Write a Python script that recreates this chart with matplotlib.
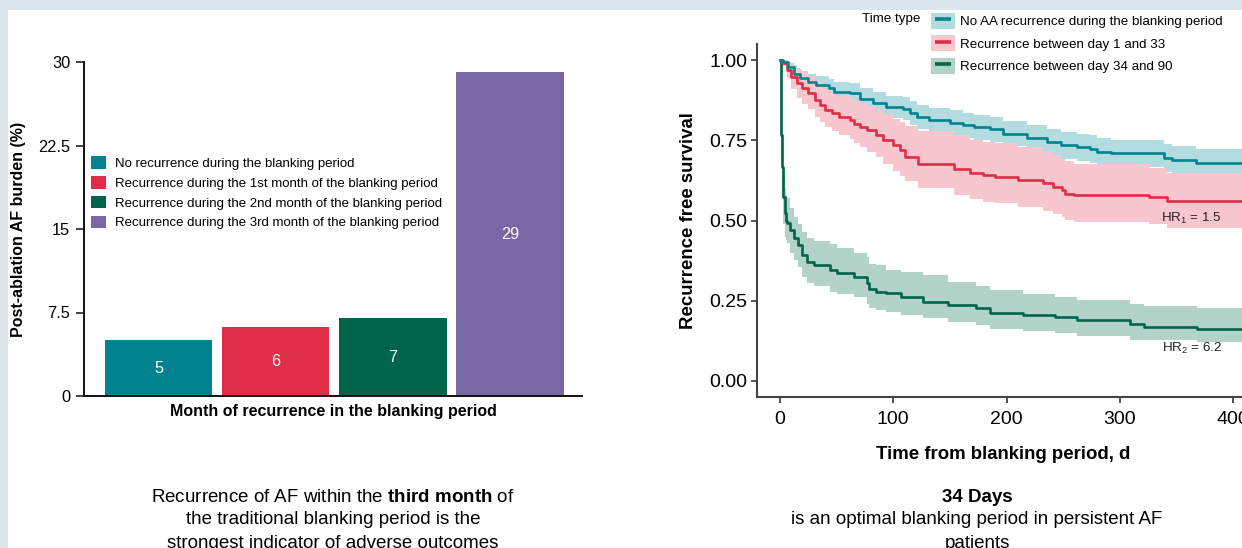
import matplotlib
matplotlib.use("Agg")
import matplotlib.pyplot as plt
from matplotlib.patches import Patch, Rectangle
from matplotlib.lines import Line2D

plt.rcParams["font.family"] = "Liberation Sans"
plt.rcParams["mathtext.fontset"] = "custom"
plt.rcParams["mathtext.rm"] = "Liberation Sans"
plt.rcParams["mathtext.bf"] = "Liberation Sans:bold"
plt.rcParams["mathtext.it"] = "Liberation Sans:italic"

# --- painel esquerdo: carga de FA por mes de recorrencia ---
grupos = [
    "No recurrence during the blanking period",
    "Recurrence during the 1st month of the blanking period",
    "Recurrence during the 2nd month of the blanking period",
    "Recurrence during the 3rd month of the blanking period",
]
carga_fa = [5.0, 6.2, 7.0, 29.1]
rotulos_carga = ["5", "6", "7", "29"]
cores_barras = ["#00838F", "#E02D47", "#00654A", "#7767A5"]

# --- painel direito: curvas de Kaplan-Meier ---
nomes_km = [
    "No AA recurrence during the blanking period",
    "Recurrence between day 1 and 33",
    "Recurrence between day 34 and 90",
]
cores_km = ["#00838F", "#E02D47", "#00654A"]
cores_ic = ["#B3DCE0", "#F7C6CF", "#B3D3C9"]

t_sem = [0, 3, 7, 12, 18, 25, 32, 43, 48, 62, 71, 82, 94, 109, 115, 121, 132, 150,
         162, 171, 185, 197, 218, 236, 248, 262, 274, 280, 292, 339, 346, 367, 420]
s_sem = [1.000, 0.995, 0.979, 0.958, 0.943, 0.932, 0.922, 0.912, 0.901, 0.896, 0.880,
         0.865, 0.854, 0.849, 0.834, 0.823, 0.813, 0.805, 0.797, 0.790, 0.784, 0.771,
         0.756, 0.745, 0.735, 0.728, 0.722, 0.715, 0.709, 0.695, 0.688, 0.678, 0.678]
sup_sem = [1.000, 1.000, 0.991, 0.976, 0.965, 0.957, 0.949, 0.941, 0.931, 0.929, 0.914,
           0.900, 0.889, 0.885, 0.871, 0.860, 0.851, 0.843, 0.836, 0.829, 0.824, 0.811,
           0.797, 0.786, 0.777, 0.770, 0.765, 0.758, 0.752, 0.739, 0.732, 0.723, 0.723]
inf_sem = [1.000, 0.990, 0.967, 0.940, 0.921, 0.907, 0.895, 0.883, 0.871, 0.863, 0.846,
           0.830, 0.819, 0.813, 0.797, 0.786, 0.775, 0.767, 0.758, 0.751, 0.744, 0.731,
           0.715, 0.704, 0.693, 0.686, 0.679, 0.672, 0.666, 0.651, 0.644, 0.633, 0.633]

t_1a33 = [0, 2, 6, 10, 15, 19, 25, 31, 35, 40, 46, 52, 62, 65, 71, 77, 85, 91, 100, 106,
          110, 122, 154, 168, 179, 190, 210, 232, 241, 249, 252, 260, 326, 342, 420]
s_1a33 = [1.000, 0.990, 0.969, 0.948, 0.927, 0.912, 0.896, 0.875, 0.860, 0.844, 0.834,
          0.823, 0.813, 0.802, 0.792, 0.782, 0.766, 0.751, 0.735, 0.719, 0.699, 0.677,
          0.662, 0.648, 0.641, 0.635, 0.626, 0.616, 0.605, 0.595, 0.584, 0.579, 0.572,
          0.561, 0.561]
sup_1a33 = [1.000, 1.000, 0.994, 0.986, 0.972, 0.962, 0.951, 0.935, 0.922, 0.909, 0.901,
            0.891, 0.883, 0.874, 0.866, 0.858, 0.844, 0.831, 0.817, 0.806, 0.795, 0.780,
            0.765, 0.752, 0.745, 0.740, 0.728, 0.716, 0.705, 0.692, 0.684, 0.676, 0.663,
            0.647, 0.647]
inf_1a33 = [1.000, 0.980, 0.944, 0.910, 0.882, 0.864, 0.846, 0.822, 0.808, 0.792, 0.778,
            0.765, 0.754, 0.742, 0.728, 0.715, 0.698, 0.677, 0.655, 0.640, 0.623, 0.600,
            0.580, 0.566, 0.558, 0.553, 0.542, 0.530, 0.520, 0.510, 0.502, 0.495, 0.488,
            0.478, 0.478]

t_34a90 = [0, 1, 2, 2.5, 3, 4, 5, 6, 9, 12, 16, 19, 24, 30, 44, 50, 65, 77, 79, 85, 94,
           107, 126, 148, 173, 185, 215, 243, 262, 309, 321, 368, 420]
s_34a90 = [1.000, 0.766, 0.667, 0.626, 0.574, 0.522, 0.500, 0.491, 0.470, 0.444, 0.423,
           0.392, 0.371, 0.361, 0.345, 0.335, 0.324, 0.304, 0.288, 0.278, 0.273, 0.262,
           0.246, 0.236, 0.226, 0.212, 0.205, 0.198, 0.189, 0.177, 0.168, 0.163, 0.163]
sup_34a90 = [1.000, 0.850, 0.760, 0.720, 0.660, 0.600, 0.580, 0.570, 0.540, 0.511, 0.490,
             0.465, 0.444, 0.435, 0.428, 0.415, 0.400, 0.385, 0.366, 0.360, 0.345, 0.338,
             0.330, 0.309, 0.295, 0.283, 0.272, 0.262, 0.252, 0.241, 0.233, 0.228, 0.228]
inf_34a90 = [1.000, 0.680, 0.580, 0.540, 0.490, 0.450, 0.440, 0.430, 0.400, 0.376, 0.355,
             0.325, 0.304, 0.295, 0.278, 0.272, 0.262, 0.241, 0.228, 0.220, 0.215, 0.205,
             0.195, 0.184, 0.175, 0.163, 0.156, 0.148, 0.139, 0.129, 0.127, 0.122, 0.122]

curvas = [
    (t_sem, s_sem, inf_sem, sup_sem),
    (t_1a33, s_1a33, inf_1a33, sup_1a33),
    (t_34a90, s_34a90, inf_34a90, sup_34a90),
]
hr_textos = [r"HR$_\mathregular{1}$ = 1.5", r"HR$_\mathregular{2}$ = 6.2"]
hr_pos = [(390, 0.507), (390, 0.102)]

W, H = 1242, 548
fig = plt.figure(figsize=(W / 100, H / 100), dpi=100)
fig.patch.set_facecolor("#DDE6EF")
fig.add_artist(Rectangle((8 / W, 0), 1, 1 - 10 / H, transform=fig.transFigure,
                         facecolor="white", edgecolor="none", zorder=0))

# ---------------- grafico de barras ----------------
ax1 = fig.add_axes([84 / W, 1 - 396 / H, 498 / W, 334 / H])
ax1.set_facecolor("none")
pos = list(range(len(carga_fa)))
ax1.bar(pos, carga_fa, width=0.915, color=cores_barras)
for i, v in enumerate(carga_fa):
    ax1.text(i, v / 2, rotulos_carga[i], color="white", ha="center", va="center", fontsize=11.7)
ax1.set_xlim(-0.64, 3.615)
ax1.set_ylim(0, 30)
ax1.set_yticks([0, 7.5, 15, 22.5, 30])
ax1.set_yticklabels(["0", "7.5", "15", "22.5", "30"])
ax1.set_xticks([])
for lado in ["top", "right"]:
    ax1.spines[lado].set_visible(False)
for lado in ["left", "bottom"]:
    ax1.spines[lado].set_linewidth(1.4)
    ax1.spines[lado].set_color("#111111")
ax1.tick_params(axis="y", length=6, width=1.1, labelsize=11.8, pad=4, color="#111111")
ax1.set_ylabel("Post-ablation AF burden (%)", fontsize=11.5, fontweight="bold")
ax1.yaxis.set_label_coords(-0.1165, 0.5)
ax1.set_xlabel("Month of recurrence in the blanking period", fontsize=11.5, fontweight="bold")
ax1.xaxis.set_label_coords(0.5, -0.025)

alcas = [Patch(facecolor=c, edgecolor="none") for c in cores_barras]
ax1.legend(alcas, grupos, loc="upper left", bbox_to_anchor=(91 / W, 1 - 156 / H),
           bbox_transform=fig.transFigure, frameon=False, fontsize=9.5, borderpad=0,
           borderaxespad=0, handlelength=1.1, handleheight=1.1, handletextpad=0.75,
           labelspacing=0.46)

# ---------------- curvas de sobrevida ----------------
ax2 = fig.add_axes([757 / W, 1 - 397 / H, 493 / W, 353 / H])
ax2.set_facecolor("none")
for (t, s, lo, up), cor in zip(curvas, cores_ic):
    ax2.fill_between(t, lo, up, step="post", color=cor, linewidth=0)
for (t, s, lo, up), cor in reversed(list(zip(curvas, cores_km))):
    ax2.step(t, s, where="post", color=cor, linewidth=1.9)
for txt, (x, y) in zip(hr_textos, hr_pos):
    ax2.text(x, y, txt, ha="right", va="center", fontsize=9.6, color="#222222")
ax2.set_xlim(-20.3, 415)
ax2.set_ylim(-0.05, 1.05)
ax2.set_xticks([0, 100, 200, 300, 400])
ax2.set_yticks([0, 0.25, 0.5, 0.75, 1.0])
ax2.set_yticklabels(["0.00", "0.25", "0.50", "0.75", "1.00"])
for lado in ["top", "right"]:
    ax2.spines[lado].set_visible(False)
for lado in ["left", "bottom"]:
    ax2.spines[lado].set_linewidth(1.5)
    ax2.spines[lado].set_color("#444444")
ax2.tick_params(length=4, width=1.3, labelsize=14, color="#444444", pad=3)
ax2.tick_params(axis="x", pad=6)
ax2.set_ylabel("Recurrence free survival", fontsize=13.4, fontweight="bold")
ax2.yaxis.set_label_coords(-0.1217, 0.5)
ax2.set_xlabel("Time from blanking period, d", fontsize=13.4, fontweight="bold")
ax2.xaxis.set_label_coords(0.499, -0.138)

alcas_km = [(Patch(facecolor=ci, edgecolor="none"),
             Line2D([], [], marker="_", markersize=11, markeredgewidth=2.6, color=c, linestyle="none"))
            for c, ci in zip(cores_km, cores_ic)]
fig.legend(alcas_km, nomes_km, loc="upper left", bbox_to_anchor=(931 / W, 1 - 13 / H),
           frameon=False, fontsize=9.6, borderpad=0, borderaxespad=0, handlelength=1.8,
           handleheight=1.45, handletextpad=0.35, labelspacing=0.5)
fig.text(920 / W, 1 - 19 / H, "Time type", ha="right", va="center", fontsize=9.6)

# ---------------- textos de conclusao ----------------
fig.text(333 / W, 1 - 497 / H, r"Recurrence of AF within the $\mathbf{third\ month}$ of",
         ha="center", va="center", fontsize=13.5)
fig.text(333 / W, 1 - 520 / H, "the traditional blanking period is the",
         ha="center", va="center", fontsize=13.5)
fig.text(333 / W, 1 - 543 / H, "strongest indicator of adverse outcomes",
         ha="center", va="center", fontsize=13.5)
fig.text(977 / W, 1 - 497 / H, "34 Days", ha="center", va="center", fontsize=13.5,
         fontweight="bold")
fig.text(977 / W, 1 - 520 / H, "is an optimal blanking period in persistent AF",
         ha="center", va="center", fontsize=13.5)
fig.text(977 / W, 1 - 543 / H, "patients", ha="center", va="center", fontsize=13.5)

fig.savefig("out.png", dpi=100, facecolor=fig.get_facecolor())
